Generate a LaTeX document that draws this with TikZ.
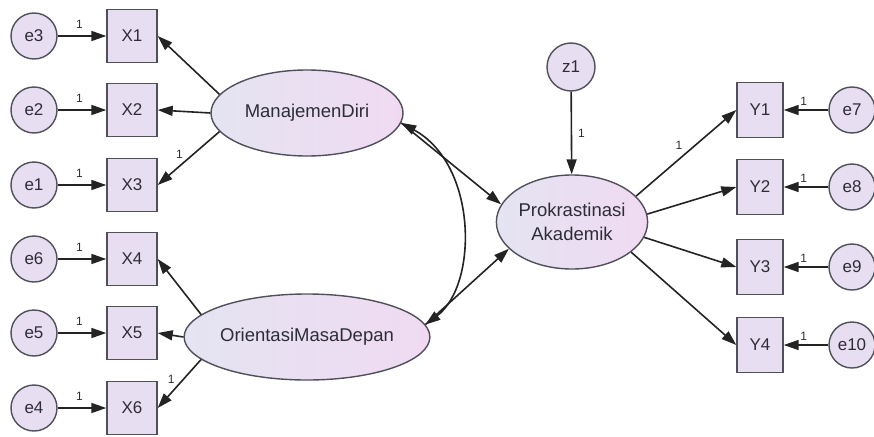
\documentclass[tikz,border=0pt]{standalone}
\usepackage{fontspec}
\setmainfont{Liberation Sans}
\usetikzlibrary{arrows.meta,shapes.geometric}
\definecolor{lav}{RGB}{232,222,242}
\definecolor{lavL}{RGB}{228,228,242}
\definecolor{lavR}{RGB}{240,218,242}
\definecolor{ink}{RGB}{45,45,55}
\definecolor{linec}{RGB}{35,35,35}
\definecolor{edgec}{RGB}{80,80,90}
\begin{document}
\begin{tikzpicture}[x=1pt,y=-1pt,
  font=\fontsize{17}{20}\selectfont, text=ink,
  errc/.style={circle,draw=edgec,line width=1.4pt,fill=lav,minimum size=46pt,inner sep=0pt},
  obsx/.style={rectangle,draw=edgec,line width=1.4pt,fill=lav,minimum width=50pt,minimum height=53pt,inner sep=0pt},
  obsy/.style={rectangle,draw=edgec,line width=1.4pt,fill=lav,minimum width=46pt,minimum height=55pt,inner sep=0pt},
  lat/.style={ellipse,draw=edgec,line width=1.4pt,left color=lavL,right color=lavR,inner sep=0pt,font=\fontsize{18.5}{24}\selectfont,align=center},
  arr/.style={draw=linec,line width=1.6pt,-{Triangle[length=15pt,width=10pt]}},
  darr/.style={draw=linec,line width=1.6pt,{Triangle[length=15pt,width=10pt]}-{Triangle[length=15pt,width=10pt]}},
  one/.style={font=\fontsize{12}{13}\selectfont,text=ink,inner sep=1pt}
]
\useasboundingbox (0,0) rectangle (874,436);

% left indicators
\foreach \e/\x/\yy in {e3/X1/36, e2/X2/110, e1/X3/185, e6/X4/259, e5/X5/333, e4/X6/408}{
  \node[errc] (\e) at (34,\yy) {\e};
  \node[obsx] (\x) at (132,\yy) {\x};
  \draw[arr] (\e) -- node[one,pos=0.45,above=6pt] {1} (\x);
}

% latent variables
\node[lat,minimum width=192pt,minimum height=86pt] (MD) at (307,113) {ManajemenDiri};
\node[lat,minimum width=192pt,minimum height=86pt] (OMD) at (307,337) {OrientasiMasaDepan};
\node[lat,minimum width=148pt,minimum height=94pt] (PA) at (572,222) {Prokrastinasi\\Akademik};
\node[errc,minimum size=48pt] (z1) at (571,67) {z1};

% loadings left
\draw[arr] (MD.168) -- (X1.east);
\draw[arr] (MD.west) -- (X2.east);
\draw[arr] (MD.192) -- node[one,pos=0.55,above left=1pt] {1} (X3.east);
\draw[arr] (OMD.168) -- (X4.east);
\draw[arr] (OMD.west) -- (X5.east);
\draw[arr] (OMD.192) -- node[one,pos=0.55,above left=1pt] {1} (X6.east);

% structural paths
\draw[arr] (MD.-6) -- (PA.166);
\draw[arr] (OMD.6) -- (PA.203);
\draw[arr] (z1) -- node[one,midway,right=5pt] {1} (PA);
\draw[darr] (MD.-6) .. controls (478,165) and (478,285) .. (OMD.6);

% right indicators
\foreach \e/\y/\yy in {e7/Y1/110, e8/Y2/187, e9/Y3/267, e10/Y4/345}{
  \node[obsy] (\y) at (760,\yy) {\y};
  \node[errc] (\e) at (852,\yy) {\e};
  \draw[arr] (\e) -- node[one,pos=0.55,above=3pt] {1} (\y);
}
\draw[arr] (PA.22) -- node[one,midway,above left=2pt] {1} (Y1.west);
\draw[arr] (PA.6) -- (Y2.west);
\draw[arr] (PA.-12) -- (Y3.west);
\draw[arr] (PA.-27) -- (Y4.west);
\end{tikzpicture}
\end{document}
